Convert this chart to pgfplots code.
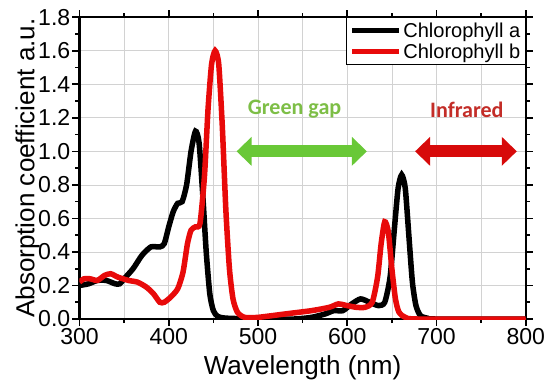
\documentclass[border=0pt]{standalone}
\usepackage{fontspec}
\setmainfont{Liberation Sans}
\newfontfamily\calib{Carlito}
\usepackage{pgfplots}
\pgfplotsset{compat=1.18}
\usetikzlibrary{arrows.meta}
\definecolor{chlb}{RGB}{232,10,10}
\definecolor{ggreen}{RGB}{105,200,55}
\definecolor{gtext}{RGB}{125,190,70}
\definecolor{irred}{RGB}{215,10,10}
\definecolor{irtext}{RGB}{195,45,40}
\begin{document}
\begin{tikzpicture}
\begin{axis}[
  scale only axis,
  width=445pt, height=301pt,
  xmin=300, xmax=800, ymin=0, ymax=1.8,
  xtick={300,400,...,800},
  minor x tick num=1,
  ytick={0,0.2,...,1.8},
  minor y tick num=1,
  yticklabel style={/pgf/number format/fixed, /pgf/number format/fixed zerofill, /pgf/number format/precision=1},
  /pgf/number format/assume math mode=true,
  tick label style={font=\fontsize{23}{25}\selectfont},
  xticklabel style={inner sep=1pt, yshift=-1pt},
  yticklabel style={inner sep=1pt, xshift=-1pt},
  label style={font=\fontsize{26}{28}\selectfont},
  xlabel={Wavelength (nm)},
  ylabel={Absorption coefficient a.u.},
  xlabel style={at={(axis description cs:0.5,-0.122)}, anchor=north, inner sep=0pt},
  ylabel style={yshift=-6pt},
  axis line style={line width=2.2pt},
  tick align=outside,
  tick style={black, line width=1.6pt},
  major tick length=7pt,
  minor tick length=4pt,
  xmajorgrids, xminorgrids, ymajorgrids,
  grid style={gray!35, line width=0.7pt},
  minor grid style={gray!35, line width=0.7pt},
  legend style={at={(1,1)}, anchor=north east, font=\fontsize{20}{22}\selectfont,
    draw=black, line width=0.8pt, inner sep=3pt, row sep=1pt},
  legend cell align=left,
  legend image code/.code={\draw[#1, line width=5.5pt] (0pt,0pt) -- (46pt,0pt);},
]
\addplot[black, line width=5.5pt, smooth, tension=0.4] coordinates {
(300,0.20) (310,0.21) (320,0.23) (330,0.23) (340,0.21) (345,0.21) (350,0.24)
(360,0.30) (370,0.38) (380,0.43) (390,0.43) (395,0.45) (400,0.55) (405,0.64)
(410,0.69) (415,0.70) (420,0.80) (425,1.00) (430,1.12) (434,1.05) (438,0.75)
(442,0.40) (446,0.15) (450,0.05) (455,0.015) (465,0.005) (500,0.0) (540,0.0)
(560,0.01) (575,0.03) (585,0.05) (595,0.05) (605,0.09) (615,0.12) (625,0.10)
(635,0.08) (642,0.10) (648,0.25) (653,0.55) (657,0.78) (661,0.86) (665,0.78)
(669,0.50) (673,0.22) (677,0.08) (682,0.02) (690,0.005) (700,0.0) (800,0.0)
};
\addlegendentry{Chlorophyll a}
\addplot[chlb, line width=5.5pt, smooth, tension=0.4] coordinates {
(300,0.22) (305,0.24) (312,0.24) (320,0.23) (328,0.26) (335,0.27) (343,0.25)
(355,0.23) (365,0.22) (375,0.19) (383,0.15) (390,0.10) (395,0.10) (402,0.13)
(410,0.18) (416,0.28) (421,0.45) (425,0.53) (430,0.55) (435,0.57) (440,0.85)
(444,1.25) (448,1.52) (452,1.60) (456,1.52) (460,1.15) (464,0.65) (468,0.30)
(472,0.12) (477,0.04) (485,0.01) (500,0.01) (530,0.03) (560,0.05) (580,0.07)
(590,0.09) (600,0.08) (610,0.07) (620,0.07) (628,0.10) (634,0.25) (638,0.45)
(642,0.58) (646,0.52) (650,0.30) (654,0.12) (658,0.04) (665,0.01) (680,0.0) (800,0.0)
};
\addlegendentry{Chlorophyll b}
\draw[ggreen, line width=12pt, {Triangle[length=15pt,width=28pt]}-{Triangle[length=15pt,width=28pt]}]
  (axis cs:476,1.0) -- (axis cs:622,1.0);
\node[gtext, font=\calib\bfseries\fontsize{22}{24}\selectfont] at (axis cs:541,1.25) {Green gap};
\draw[irred, line width=12pt, {Triangle[length=15pt,width=28pt]}-{Triangle[length=15pt,width=28pt]}]
  (axis cs:676,1.0) -- (axis cs:790,1.0);
\node[irtext, font=\calib\bfseries\fontsize{22}{24}\selectfont] at (axis cs:734,1.25) {Infrared};
\end{axis}
\path ([shift={(-12pt,-1pt)}]current bounding box.south west)
      ([shift={(4pt,8pt)}]current bounding box.north east);
\end{tikzpicture}
\end{document}
